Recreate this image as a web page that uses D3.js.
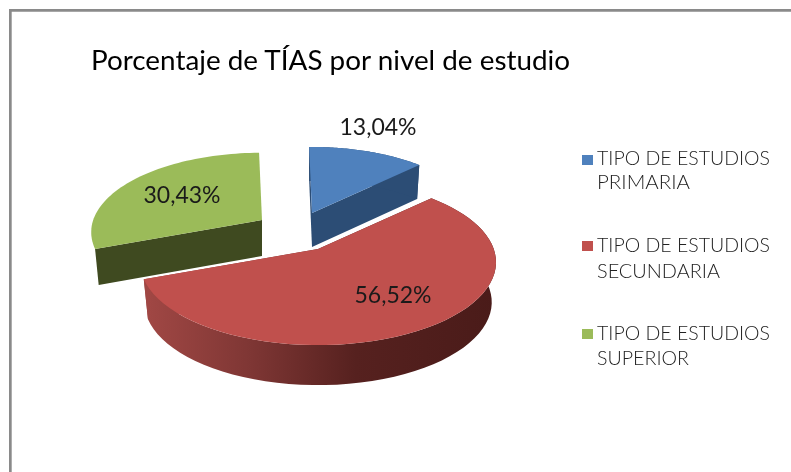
<!DOCTYPE html>
<html><head><meta charset="utf-8">
<script src="https://cdnjs.cloudflare.com/ajax/libs/d3/7.8.5/d3.min.js"></script>
<style>html,body{margin:0;padding:0;background:#fff}svg{display:block;filter:blur(.45px)}</style>
</head><body><svg id="c" width="791" height="472"></svg>
<script>
const categories = ["TIPO DE ESTUDIOS PRIMARIA","TIPO DE ESTUDIOS SECUNDARIA","TIPO DE ESTUDIOS SUPERIOR"];
const legendLine1 = ["TIPO DE ESTUDIOS","TIPO DE ESTUDIOS","TIPO DE ESTUDIOS"];
const legendLine2 = ["PRIMARIA","SECUNDARIA","SUPERIOR"];
const values = [13.04,56.52,30.43];
const valueLabels = ["13,04%","56,52%","30,43%"];
const titleText = "Porcentaje de TÍAS por nivel de estudio";

const topColors = ["#4f81bd","#c0504d","#9bbb59"];
const wallColors = ["#2c4d75","url(#redWall)","#3f4a20"];
// layout of the exploded, perspective-tilted pie
const slices = [
  {ox:312, oy:213, k:.95, d:34, outer:true,  lx:378, ly:127},
  {ox:318, oy:249, k:1.01, d:40, outer:true, lx:393, ly:295},
  {ox:262, oy:220, k:.97, d:36, outer:false, lx:182, ly:195}
];
const RX=174, RY=80, P=.158, ROT=-0.02;
const line2Widths=[93,123,92];

const svg=d3.select("#c");
const defs=svg.append("defs");
const g=defs.append("linearGradient").attr("id","redWall").attr("gradientUnits","userSpaceOnUse")
  .attr("x1",148).attr("x2",494).attr("y1",0).attr("y2",0);
[[0,"#a04744"],[.3,"#7e3634"],[.6,"#56211f"],[1,"#4a1b19"]].forEach(s=>g.append("stop").attr("offset",s[0]).attr("stop-color",s[1]));

// frame
svg.append("path").attr("d","M10.35,472V10.35H791").attr("fill","none").attr("stroke","#8a8a8a").attr("stroke-width",2.7);

const arcs=d3.pie().sort(null).startAngle(ROT).endAngle(2*Math.PI+ROT).value(d=>d)(values);
const line=d3.line();
function proj(s,r,a,h){
  const w=1+P*r*s.k*Math.cos(a), sc=1-h*0.0006;
  return [s.ox+RX*r*s.k*Math.sin(a)/w*sc, s.oy-RY*r*s.k*Math.cos(a)/w+h];
}
function arcPts(s,a0,a1,h){
  return d3.range(0,61).map(i=>proj(s,1,a0+(a1-a0)*i/60,h));
}
const order=[0,2,1];
order.forEach(i=>{
  const s=slices[i],A=arcs[i];
  const top=arcPts(s,A.startAngle,A.endAngle,0);
  const bot=arcPts(s,A.startAngle,A.endAngle,s.d);
  const apex=[s.ox,s.oy], apexB=proj(s,0,0,s.d);
  svg.append("path").attr("d",line([apex,top[0],bot[0],apexB])+"Z").attr("fill",wallColors[i]);
  if(s.outer) svg.append("path").attr("d",line([apex,top[60],bot[60],apexB])+"Z").attr("fill",wallColors[i]);
  if(s.outer) svg.append("path").attr("d",line(top.concat(bot.slice().reverse()))+"Z").attr("fill",wallColors[i]);
  svg.append("path").attr("d",line([apex].concat(top))+"Z").attr("fill",topColors[i]);
});
// value labels
svg.selectAll("text.v").data(valueLabels).join("text").attr("class","v")
  .attr("x",(d,i)=>slices[i].lx).attr("y",(d,i)=>slices[i].ly+8).attr("text-anchor","middle")
  .attr("font-family","Lato").attr("font-size",23).attr("fill","#1a1a1a").text(d=>d);
// title
svg.append("text").attr("x",91).attr("y",70).attr("font-family","Lato").attr("font-size",26)
  .attr("textLength",479).attr("lengthAdjust","spacingAndGlyphs").attr("fill","#000").text(titleText);
// legend
const legY=[155,241,329], base1=[165,252,340], base2=[189,278,365];
categories.forEach((c,i)=>{
  svg.append("rect").attr("x",582).attr("y",legY[i]).attr("width",11).attr("height",10).attr("fill",topColors[i]);
  svg.append("text").attr("x",597).attr("y",base1[i]).attr("font-family","Lato").attr("font-size",19).attr("font-weight",300)
    .attr("textLength",173).attr("lengthAdjust","spacingAndGlyphs").attr("fill","#222").text(legendLine1[i]);
  svg.append("text").attr("x",597).attr("y",base2[i]).attr("font-family","Lato").attr("font-size",19).attr("font-weight",300)
    .attr("textLength",line2Widths[i]).attr("lengthAdjust","spacingAndGlyphs").attr("fill","#222").text(legendLine2[i]);
});
</script></body></html>
